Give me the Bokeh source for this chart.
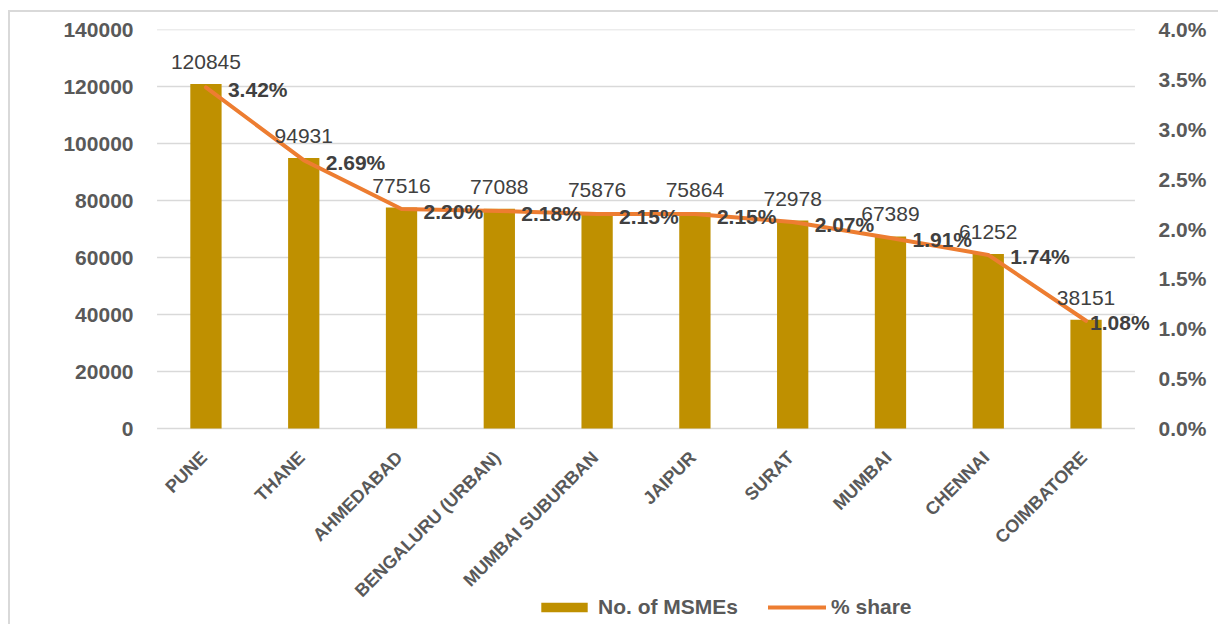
import math
from bokeh.plotting import figure
from bokeh.models import (ColumnDataSource, FactorRange, Range1d, LinearAxis, FixedTicker,
                          PrintfTickFormatter, LabelSet, Legend, LegendItem)
from bokeh.core.properties import value
from bokeh.embed import file_html
from bokeh.resources import INLINE

# ---- data ----
districts = ["PUNE", "THANE", "AHMEDABAD", "BENGALURU (URBAN)", "MUMBAI SUBURBAN",
             "JAIPUR", "SURAT", "MUMBAI", "CHENNAI", "COIMBATORE"]
msmes = [120845, 94931, 77516, 77088, 75876, 75864, 72978, 67389, 61252, 38151]
share_pct = [3.42, 2.69, 2.20, 2.18, 2.15, 2.15, 2.07, 1.91, 1.74, 1.08]
left_ticks = [0, 20000, 40000, 60000, 80000, 100000, 120000, 140000]
right_ticks = [0.0, 0.5, 1.0, 1.5, 2.0, 2.5, 3.0, 3.5, 4.0]
left_max = 140000
right_max = 4.0

# label placement (style)
pct_label_dx = [22, 22, 22, 22, 22, 22, 22, 22, 22, 4]

BAR = "#BF9000"
LINE = "#ED7D31"
AXIS_TXT = "#595959"
LBL_TXT = "#404040"
GRID = "#D9D9D9"
FONT = "Liberation Sans"

# layout (pixels)
W, H = 1218, 624
FRAME_LEFT, FRAME_TOP = 137, 29
FRAME_W = 1017
PAD = 0.2                       # side padding of the category range (category units)
PLOT_H = 399                    # height of the value area (0 .. max)
BELOW = H - FRAME_TOP - PLOT_H  # space under the zero line kept inside the frame
lo_frac = BELOW / PLOT_H
ncat = len(districts)

src = ColumnDataSource(dict(
    d=districts, n=msmes, s=share_pct,
    ntxt=[str(v) for v in msmes],
    stxt=["%.2f%%" % v for v in share_pct],
    dx=pct_label_dx,
    zero=[0] * ncat,
))
grid_src = ColumnDataSource(dict(y=left_ticks, x0=[0] * len(left_ticks),
                                 x1=[ncat] * len(left_ticks)))

p = figure(x_range=FactorRange(*districts, range_padding=PAD,
                               range_padding_units="absolute"),
           y_range=Range1d(-left_max * lo_frac, left_max),
           width=W, height=H,
           min_border_left=FRAME_LEFT, min_border_right=W - FRAME_LEFT - FRAME_W,
           min_border_top=FRAME_TOP, min_border_bottom=0,
           output_backend="svg", toolbar_location=None,
           background_fill_color="white", border_fill_color="white",
           border_fill_alpha=0)
p.outline_line_color = None
p.extra_y_ranges = {"pct": Range1d(-right_max * lo_frac, right_max)}
p.styles = {"background": "linear-gradient(#D9D9D9,#D9D9D9) 8px 10px / 2px 100% no-repeat, "
                          "linear-gradient(#D9D9D9,#D9D9D9) 8px 10px / 100% 2px no-repeat, white"}

# horizontal gridlines spanning the category area only
p.xgrid.grid_line_color = None
p.ygrid.grid_line_color = None
p.segment(x0="x0", x1="x1", y0="y", y1="y", source=grid_src,
          line_color=GRID, line_width=1.5)

bars = p.vbar(x="d", top="n", width=0.32, source=src, fill_color=BAR, line_color=None)
line = p.line(x="d", y="s", source=src, y_range_name="pct", line_color=LINE,
              line_width=4, line_join="round", line_cap="round")


def style_axis(a):
    a.axis_line_color = None
    a.major_tick_line_color = None
    a.minor_tick_line_color = None
    a.major_tick_out = 0
    a.minor_tick_out = 0
    a.major_tick_in = 0
    a.minor_tick_in = 0
    a.major_label_standoff = 4
    a.major_label_text_font = FONT
    a.major_label_text_font_size = "21px"
    a.major_label_text_font_style = "bold"
    a.major_label_text_color = AXIS_TXT


# left axis
ax = p.yaxis[0]
ax.ticker = FixedTicker(ticks=left_ticks)
ax.formatter = PrintfTickFormatter(format="%d")
style_axis(ax)

# right axis
rax = LinearAxis(y_range_name="pct", ticker=FixedTicker(ticks=right_ticks),
                 formatter=PrintfTickFormatter(format="%.1f%%"))
style_axis(rax)
p.add_layout(rax, "right")

# category axis: labels drawn on the categorical scale under the zero line
p.xaxis.visible = False
cat = LabelSet(x="d", y="zero", text="d", source=src, angle=math.pi / 4,
               text_align="right", text_baseline="middle", x_offset=-2, y_offset=-26,
               text_font=value(FONT), text_font_size="18px", text_font_style="bold",
               text_color=AXIS_TXT)
p.add_layout(cat)

# data labels
nl = LabelSet(x="d", y="n", text="ntxt", source=src, text_align="center",
              text_baseline="alphabetic", y_offset=15, text_font=value(FONT),
              text_font_size="21px", text_color=LBL_TXT)
sl = LabelSet(x="d", y="s", text="stxt", source=src, y_range_name="pct",
              text_align="left", text_baseline="middle", x_offset="dx", y_offset=-2,
              text_font=value(FONT), text_font_size="21px", text_font_style="bold",
              text_color=LBL_TXT)
p.add_layout(nl)
p.add_layout(sl)

legend = Legend(items=[LegendItem(label="No. of MSMEs", renderers=[bars]),
                       LegendItem(label="% share", renderers=[line])],
                orientation="horizontal", location=(535 - FRAME_LEFT, 5))
legend.border_line_color = None
legend.background_fill_alpha = 0
legend.padding = 0
legend.margin = 0
legend.spacing = 30
legend.glyph_width = 58
legend.glyph_height = 12
legend.label_standoff = 5
legend.label_text_font = FONT
legend.label_text_font_size = "21px"
legend.label_text_font_style = "bold"
legend.label_text_color = AXIS_TXT
p.add_layout(legend, "center")

open("out.html", "w").write(file_html(p, INLINE))
